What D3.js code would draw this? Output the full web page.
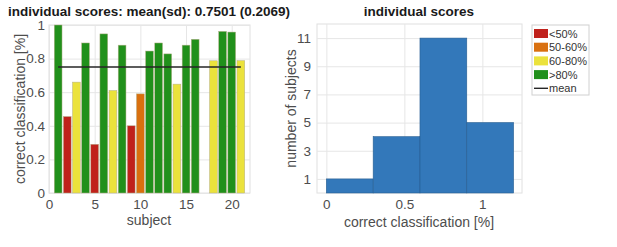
<!DOCTYPE html>
<html>
<head>
<meta charset="utf-8">
<script src="https://d3js.org/d3.v7.min.js"></script>
<style>
  body { margin: 0; background: #fff; font-family: Helvetica, Arial, "Liberation Sans", sans-serif; }
  .tick text { fill: #4d4d4d; font-size: 13.5px; }
  .tick line { stroke: #e6e6e6; }
  .domain { stroke: #e0e0e0; }
</style>
</head>
<body>
<script>
// subject scores (subject 17 has no bar)
const subjects = d3.range(1, 22);
const scores = [1.0, 0.455, 0.66, 0.893, 0.29, 0.947, 0.61, 0.88, 0.40, 0.59,
                0.845, 0.893, 0.828, 0.648, 0.88, 0.915, null, 0.787, 0.962, 0.958, 0.788];
const meanScore = 0.7501;
const sdScore = 0.2069;

// histogram bins
const binEdges = [0, 0.3, 0.6, 0.9, 1.2];
const binCounts = [1, 4, 11, 5];

const classNames = ["<50%", "50-60%", "60-80%", ">80%"];
const classColors = ["#c0211b", "#d9700f", "#ebe23c", "#21901b"];

function classOf(v) {
  if (v < 0.5) return 0;
  if (v < 0.6) return 1;
  if (v < 0.8) return 2;
  return 3;
}

const svg = d3.select("body").append("svg")
  .attr("width", 617).attr("height", 247);

// ---------- left: bar chart ----------
const L = {left: 49, right: 250, top: 25, bottom: 193};
const x1 = d3.scaleLinear().domain([0, 22]).range([L.left, L.right]);
const y1 = d3.scaleLinear().domain([0, 1]).range([L.bottom, L.top]);

const g1 = svg.append("g");
g1.append("rect").attr("x", L.left).attr("y", L.top)
  .attr("width", L.right - L.left).attr("height", L.bottom - L.top)
  .attr("fill", "none").attr("stroke", "#e0e0e0");

g1.append("g").attr("transform", `translate(0,${L.bottom})`)
  .call(d3.axisBottom(x1).tickValues([0, 5, 10, 15, 20]).tickSize(-(L.bottom - L.top)).tickPadding(6))
  .call(g => g.select(".domain").remove());
g1.append("g").attr("transform", `translate(${L.left},0)`)
  .call(d3.axisLeft(y1).tickValues([0, 0.2, 0.4, 0.6, 0.8, 1]).tickFormat(d3.format("~g"))
    .tickSize(-(L.right - L.left)).tickPadding(4))
  .call(g => g.select(".domain").remove());

const bw = 0.85;
g1.selectAll("rect.bar")
  .data(subjects.map((s, i) => ({s, v: scores[i]})).filter(d => d.v !== null))
  .join("rect").attr("class", "bar")
  .attr("x", d => x1(d.s - bw / 2))
  .attr("width", x1(bw) - x1(0))
  .attr("y", d => y1(d.v))
  .attr("height", d => y1(0) - y1(d.v))
  .attr("fill", d => classColors[classOf(d.v)])
  .attr("stroke", "#b5b08a").attr("stroke-width", 0.5);

g1.append("line")
  .attr("x1", x1(1)).attr("x2", x1(21))
  .attr("y1", y1(meanScore)).attr("y2", y1(meanScore))
  .attr("stroke", "#262626").attr("stroke-width", 1.6);

svg.append("text").attr("x", 149).attr("y", 16).attr("text-anchor", "middle")
  .attr("font-weight", "bold").attr("font-size", 13.5).attr("fill", "#1a1a1a")
  .text(`individual scores: mean(sd): ${meanScore.toFixed(4)} (${sdScore.toFixed(4)})`);
svg.append("text").attr("x", 149).attr("y", 225).attr("text-anchor", "middle")
  .attr("font-size", 14).attr("fill", "#4d4d4d").text("subject");
svg.append("text").attr("transform", `translate(25,${(L.top + L.bottom) / 2}) rotate(-90)`)
  .attr("text-anchor", "middle").attr("font-size", 14).attr("fill", "#4d4d4d")
  .text("correct classification [%]");

// ---------- right: histogram ----------
const R = {left: 317, right: 522, top: 24, bottom: 193};
const x2 = d3.scaleLinear().domain([-0.06, 1.254]).range([R.left, R.right]);
const y2 = d3.scaleLinear().domain([0, 12]).range([R.bottom, R.top]);

const g2 = svg.append("g");
g2.append("rect").attr("x", R.left).attr("y", R.top)
  .attr("width", R.right - R.left).attr("height", R.bottom - R.top)
  .attr("fill", "none").attr("stroke", "#e0e0e0");
g2.append("g").attr("transform", `translate(0,${R.bottom})`)
  .call(d3.axisBottom(x2).tickValues([0, 0.5, 1]).tickFormat(d3.format("~g"))
    .tickSize(-(R.bottom - R.top)).tickPadding(6))
  .call(g => g.select(".domain").remove());
g2.append("g").attr("transform", `translate(${R.left},0)`)
  .call(d3.axisLeft(y2).tickValues([1, 3, 5, 7, 9, 11])
    .tickSize(-(R.right - R.left)).tickPadding(6))
  .call(g => g.select(".domain").remove());

g2.selectAll("rect.hbar")
  .data(binCounts.map((c, i) => ({x0: binEdges[i], x1: binEdges[i + 1], c})))
  .join("rect").attr("class", "hbar")
  .attr("x", d => x2(d.x0))
  .attr("width", d => x2(d.x1) - x2(d.x0))
  .attr("y", d => y2(d.c))
  .attr("height", d => y2(0) - y2(d.c))
  .attr("fill", "#2c74b8").attr("fill-opacity", 0.97)
  .attr("stroke", "#285f92").attr("stroke-width", 0.6);

svg.append("text").attr("x", 419).attr("y", 16).attr("text-anchor", "middle")
  .attr("font-weight", "bold").attr("font-size", 13.5).attr("fill", "#1a1a1a")
  .text("individual scores");
svg.append("text").attr("x", 419).attr("y", 227).attr("text-anchor", "middle")
  .attr("font-size", 14).attr("fill", "#4d4d4d").text("correct classification [%]");
svg.append("text").attr("transform", `translate(296,${(R.top + R.bottom) / 2}) rotate(-90)`)
  .attr("text-anchor", "middle").attr("font-size", 14).attr("fill", "#4d4d4d")
  .text("number of subjects");

// ---------- legend ----------
const lg = svg.append("g").attr("transform", "translate(532,25)");
lg.append("rect").attr("width", 57).attr("height", 70)
  .attr("fill", "#fff").attr("stroke", "#d0d0d0");
classNames.forEach((n, i) => {
  lg.append("rect").attr("x", 2).attr("y", 4 + i * 13.7).attr("width", 14).attr("height", 9)
    .attr("fill", classColors[i]);
  lg.append("text").attr("x", 17).attr("y", 12.5 + i * 13.7)
    .attr("font-size", 11).attr("fill", "#333").text(n);
});
lg.append("line").attr("x1", 2).attr("x2", 16).attr("y1", 8.5 + 4 * 13.7).attr("y2", 8.5 + 4 * 13.7)
  .attr("stroke", "#262626").attr("stroke-width", 1.4);
lg.append("text").attr("x", 17).attr("y", 12.5 + 4 * 13.7)
  .attr("font-size", 11).attr("fill", "#333").text("mean");
</script>
</body>
</html>
